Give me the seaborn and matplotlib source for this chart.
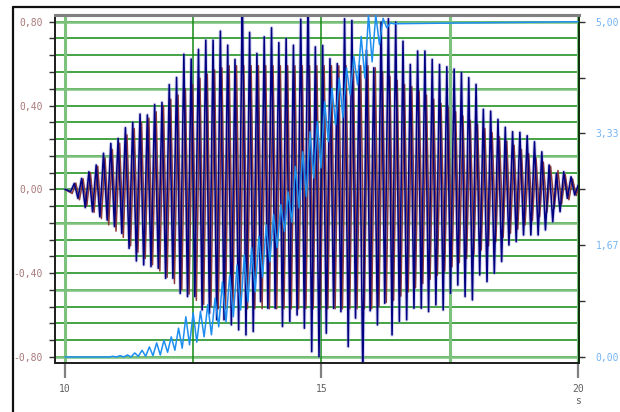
import numpy as np
import pandas as pd
import matplotlib
matplotlib.use("Agg")
import matplotlib.pyplot as plt
import matplotlib.transforms as mtransforms
from matplotlib.lines import Line2D
from matplotlib.ticker import FixedLocator, FuncFormatter
import seaborn as sns

# --- данные ---
# время пиков: первая отрицательная вершина и период колебаний (с)
t_first_min = 10.11
period = 0.1424

# основной сигнал (тёмно-синий), минимумы и максимумы по циклам
navy_min = [-0.011, -0.043, -0.087, -0.107, -0.131, -0.147, -0.178, -0.210, -0.282, -0.342,
            -0.361, -0.369, -0.377, -0.425, -0.425, -0.497, -0.512, -0.512, -0.576, -0.592,
            -0.623, -0.623, -0.647, -0.671, -0.695, -0.679,
            -0.536, -0.568, -0.568, -0.655, -0.631, -0.600, -0.663, -0.775, -0.799, -0.687,
            -0.568, -0.584, -0.751, -0.615, -0.900, -0.580, -0.647, -0.544, -0.695, -0.631,
            -0.623, -0.568,
            -0.568, -0.584, -0.552, -0.576, -0.496, -0.457, -0.512, -0.528, -0.409, -0.441,
            -0.401, -0.345, -0.266, -0.250, -0.218, -0.218, -0.218, -0.194, -0.155, -0.107,
            -0.043, -0.027]
navy_max = [0.028, 0.052, 0.084, 0.116, 0.172, 0.219, 0.243, 0.294, 0.320, 0.359,
            0.355, 0.405, 0.415, 0.500, 0.534, 0.645, 0.622, 0.668, 0.712, 0.712,
            0.755, 0.688, 0.620, 0.950, 0.749, 0.649,
            0.728, 0.771, 0.700, 0.720, 0.688, 0.812, 0.950, 0.680, 0.687, 0.623,
            0.600, 0.814, 0.806, 0.590, 0.663, 0.580, 0.798, 0.814, 0.798, 0.707,
            0.596,
            0.660, 0.660, 0.620, 0.596, 0.585, 0.574, 0.558, 0.533, 0.501, 0.382,
            0.373, 0.334, 0.296, 0.275, 0.272, 0.256, 0.227, 0.179, 0.116, 0.076,
            0.084, 0.060, 0.021]

# второй сигнал (коричневый), с ограничением около +-0,58
brown_lag = 0.03
brown_max = [0.03, 0.05, 0.08, 0.11, 0.15, 0.19, 0.22, 0.26, 0.29, 0.32,
             0.34, 0.37, 0.40, 0.43, 0.45, 0.48, 0.50, 0.53, 0.55, 0.57,
             0.58, 0.59, 0.59, 0.59, 0.59, 0.59, 0.59, 0.59, 0.59, 0.59,
             0.59, 0.59, 0.59, 0.59, 0.59, 0.59, 0.59, 0.59, 0.59, 0.59,
             0.59, 0.58, 0.56, 0.54, 0.52, 0.50, 0.49, 0.47, 0.45, 0.43,
             0.41, 0.39, 0.37, 0.35, 0.33, 0.31, 0.29, 0.27, 0.25, 0.23,
             0.21, 0.19, 0.17, 0.15, 0.13, 0.11, 0.09, 0.07, 0.05, 0.03]
brown_min = [-0.02, -0.05, -0.08, -0.11, -0.14, -0.17, -0.20, -0.23, -0.27, -0.30,
             -0.33, -0.36, -0.39, -0.42, -0.45, -0.48, -0.50, -0.53, -0.55, -0.56,
             -0.57, -0.57, -0.57, -0.57, -0.57, -0.57, -0.57, -0.57, -0.57, -0.57,
             -0.57, -0.57, -0.57, -0.57, -0.57, -0.57, -0.57, -0.57, -0.57, -0.57,
             -0.57, -0.57, -0.56, -0.54, -0.53, -0.51, -0.49, -0.47, -0.45, -0.43,
             -0.41, -0.39, -0.37, -0.35, -0.33, -0.31, -0.29, -0.27, -0.25, -0.23,
             -0.21, -0.19, -0.17, -0.15, -0.13, -0.11, -0.09, -0.07, -0.05, -0.03]

# третий сигнал (голубой, правая ось 0..5)
blue_first_max = 10.22
blue_max = [0.0, 0.0, 0.0, 0.0, 0.0, 0.01, 0.02, 0.03, 0.06, 0.10,
            0.15, 0.21, 0.25, 0.30, 0.43, 0.60, 0.66, 0.68, 0.78, 0.88,
            1.12, 1.22, 1.37, 1.52, 1.63, 1.80, 1.97, 2.12, 2.27, 2.46,
            2.84, 3.06, 3.36, 3.51, 3.81, 4.01, 4.16, 4.31, 4.48, 4.78,
            5.10, 5.10, 5.05, 4.98]
blue_min = [0.0, 0.0, 0.0, 0.0, 0.0, 0.0, 0.0, 0.0, 0.01, 0.01,
            0.02, 0.03, 0.07, 0.10, 0.13, 0.18, 0.22, 0.30, 0.33, 0.45,
            0.52, 0.60, 0.70, 0.82, 0.97, 1.19, 1.42, 1.63, 1.87, 2.01,
            2.22, 2.39, 2.67, 2.82, 3.21, 3.46, 3.57, 3.91, 4.06, 4.16,
            4.40, 4.66, 4.91, 4.97]
blue_end = 5.0

x_ticks = [10, 15, 20]
x_grid = [10, 12.5, 15, 17.5, 20]
left_major = [-0.8, -0.4, 0.0, 0.4, 0.8]
right_major = [0.0, 5 / 3, 10 / 3, 5.0]
right_minor = [5 / 6, 2.5, 25 / 6]
right_grid = [0, 1, 2, 3, 4, 5]


def zigzag(t_lo, lo, t_hi, hi, start=None, end=None):
    t = np.empty(2 * len(lo))
    v = np.empty(2 * len(lo))
    t[0::2], t[1::2] = t_lo, t_hi
    v[0::2], v[1::2] = lo, hi
    if start is not None:
        t, v = np.r_[start[0], t], np.r_[start[1], v]
    if end is not None:
        t, v = np.r_[t, end[0]], np.r_[v, end[1]]
    return pd.DataFrame({"t": t, "v": v})


n = len(navy_min)
t_min = t_first_min + period * np.arange(n)
t_max = t_min + period / 2
navy = zigzag(t_min, navy_min, t_max, navy_max, start=(10.0, 0.0))
brown = zigzag(t_min + brown_lag, brown_min, t_max + brown_lag, brown_max, start=(10.0, 0.0))

nb = len(blue_max)
tb_max = blue_first_max + period * np.arange(nb)
blue = zigzag(tb_max, blue_max, tb_max + period / 2, blue_min,
              start=(10.0, 0.0), end=(20.0, blue_end))

sns.set_style("white")
plt.rcParams["font.family"] = ["DejaVu Sans Mono", "DejaVu Sans"]

fig = plt.figure(figsize=(6.2, 4.12), dpi=100)
ax = fig.add_axes([55 / 620, 1 - 363 / 412, 524 / 620, 348 / 412])
ax2 = ax.twinx()
ax.set_zorder(1)
ax.patch.set_visible(False)
ax2.set_zorder(2)

ax.set_xlim(9.805, 20.02)
ax.set_ylim(-0.829, 0.832)
ax2.set_ylim(-0.09, 5.10)

# сетка
dark_green = "#138a13"
light_green = "#7cc27c"
ax.yaxis.set_major_locator(FixedLocator(left_major))
ax.yaxis.set_minor_locator(FixedLocator(np.arange(-0.8, 0.81, 0.08)))
ax.grid(False)
for y in np.arange(-0.8, 0.81, 0.08):
    ax.axhline(y, color=dark_green, lw=1.1, zorder=0)
mixed = mtransforms.blended_transform_factory(ax.transAxes, ax2.transData)
ax.hlines(right_grid, 0, 1, transform=mixed, color=light_green, lw=1.8, zorder=0.5)
for x in x_grid:
    if x in (12.5, 15):
        ax.axvline(x, color=dark_green, lw=1.1, zorder=0.6)
    else:
        ax.axvline(x, color=light_green, lw=2.2, zorder=0.6)

# сигналы
sns.lineplot(data=navy, x="t", y="v", ax=ax, color="#8c8cd8", lw=2.6, alpha=0.35,
             estimator=None, sort=False, zorder=2)
sns.lineplot(data=brown, x="t", y="v", ax=ax, color="#8a3a3a", lw=1.1,
             estimator=None, sort=False, zorder=2.5)
sns.lineplot(data=navy, x="t", y="v", ax=ax, color="#000080", lw=1.15,
             estimator=None, sort=False, zorder=3)
sns.lineplot(data=blue, x="t", y="v", ax=ax2, color="#1e8ff0", lw=1.1,
             estimator=None, sort=False, zorder=3)
ax.set_xlabel("")
ax.set_ylabel("")
ax2.set_ylabel("")

# оси и подписи
fmt = FuncFormatter(lambda v, p: f"{v:.2f}".replace(".", ","))
ax.yaxis.set_major_formatter(fmt)
ax2.yaxis.set_major_locator(FixedLocator(right_major))
ax2.yaxis.set_minor_locator(FixedLocator(right_minor))
ax2.yaxis.set_major_formatter(fmt)
ax.set_xticks(x_ticks)
ax.set_xticklabels([str(x) for x in x_ticks])

ax.tick_params(axis="y", which="both", direction="out", length=4, width=1,
               color="#303030", labelsize=7, labelcolor="#a87878", pad=5,
               left=True)
ax.tick_params(axis="x", direction="out", length=11, width=1.6, color="#808080",
               labelsize=7, labelcolor="#606060", pad=4, bottom=True)
ax2.tick_params(axis="y", which="both", direction="out", length=4, width=1,
                color="#303030", labelsize=7, labelcolor="#74b4f4", pad=8,
                right=True)

for a in (ax, ax2):
    a.spines["top"].set_color("#808080")
    a.spines["top"].set_linewidth(2.2)
    a.spines["left"].set_color("#202020")
    a.spines["left"].set_linewidth(1.3)
    a.spines["bottom"].set_color("#202020")
    a.spines["bottom"].set_linewidth(1.3)
    a.spines["right"].set_color("#103010")
    a.spines["right"].set_linewidth(1.3)

ax.text(20, -0.095, "s", transform=mtransforms.blended_transform_factory(ax.transData, ax.transAxes),
        ha="center", va="top", fontsize=7, color="#606060")

# внешняя рамка
fig.add_artist(Line2D([13 / 620, 13 / 620], [0, 1 - 6.5 / 412], color="#101010", lw=1.6))
fig.add_artist(Line2D([13 / 620, 1], [1 - 6.5 / 412, 1 - 6.5 / 412], color="#101010", lw=1.6))

fig.savefig("out.png", dpi=100)
